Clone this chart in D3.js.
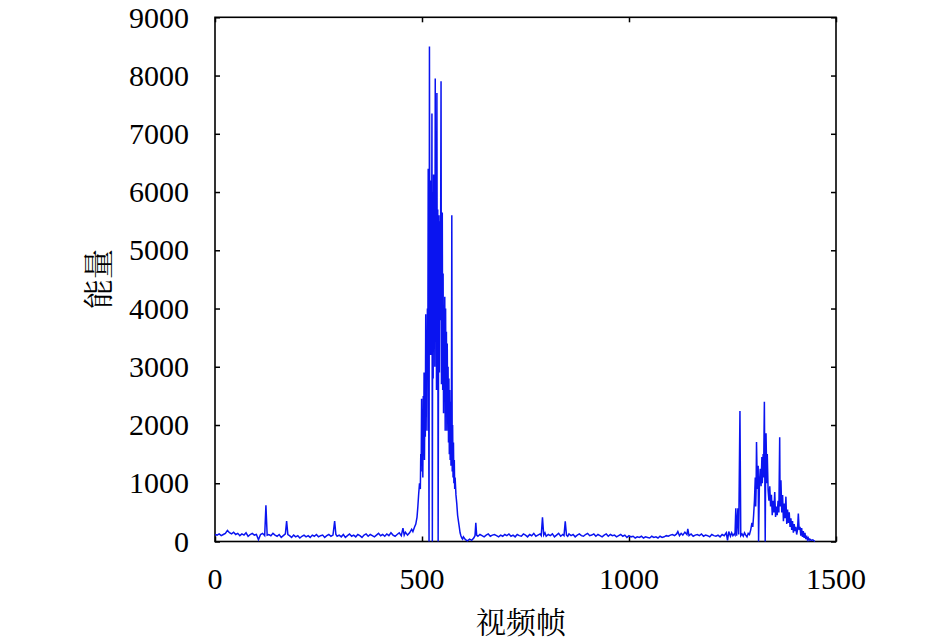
<!DOCTYPE html>
<html>
<head>
<meta charset="utf-8">
<script src="https://cdn.jsdelivr.net/npm/d3@7"></script>
<style>
    body { margin: 0; background: #fff; }
    .tick line { stroke: #000; stroke-width: 1.5; }
</style>
</head>
<body>
<div id="main_div" style="width:946px;height:642px"></div>
<script>
/** Global Variables **/
let xScale, yScale;
const size = [946, 642];
const box = { left: 215, right: 836, top: 17.3, bottom: 541.5 };
const tickFont = "'Liberation Serif', monospace";
const labelFont = "'Noto Serif CJK SC', 'Noto Sans CJK SC', monospace";

const xTicks = [0, 500, 1000, 1500];
const yTicks = [0, 1000, 2000, 3000, 4000, 5000, 6000, 7000, 8000, 9000];
const xLabel = "视频帧";
const yLabel = "能量";

// video frame index
const frames = [
    0, 5, 10, 15, 20, 25, 30, 35, 40, 45,
    50, 55, 60, 65, 70, 75, 80, 85, 90, 95,
    100, 105, 110, 115, 120, 123, 126, 130, 135, 140,
    145, 150, 155, 160, 165, 170, 173, 176, 180, 185,
    190, 195, 200, 205, 210, 215, 220, 225, 230, 235,
    240, 245, 250, 255, 260, 265, 270, 275, 280, 285,
    289, 292, 295, 300, 305, 310, 315, 320, 325, 330,
    335, 340, 345, 350, 355, 360, 365, 370, 375, 380,
    385, 390, 395, 400, 405, 410, 415, 420, 425, 430,
    435, 440, 445, 450, 454, 457, 460, 465, 470, 475,
    478, 482, 485, 488, 490, 492, 494, 496, 497, 498,
    499, 500, 501, 502, 503, 504, 505, 506, 507, 508,
    509, 510, 511, 512, 513, 514, 515, 516, 517, 518,
    519, 520, 521, 522, 523, 524, 525, 526, 527, 528,
    529, 530, 531, 532, 533, 534, 535, 536, 537, 538,
    539, 540, 541, 542, 543, 544, 545, 546, 547, 548,
    549, 550, 551, 552, 553, 554, 555, 556, 557, 558,
    559, 560, 561, 562, 563, 564, 565, 566, 567, 568,
    569, 570, 571, 572, 573, 574, 575, 576, 577, 578,
    579, 580, 582, 584, 586, 588, 590, 592, 594, 596,
    598, 600, 605, 610, 615, 620, 625, 628, 630, 632,
    635, 640, 645, 650, 655, 660, 665, 670, 675, 680,
    685, 690, 695, 700, 705, 710, 715, 720, 725, 730,
    735, 740, 745, 750, 755, 760, 765, 770, 775, 780,
    785, 788, 791, 794, 797, 800, 805, 810, 815, 820,
    825, 830, 835, 840, 843, 846, 849, 852, 855, 860,
    865, 870, 875, 880, 885, 890, 895, 900, 905, 910,
    915, 920, 925, 930, 935, 940, 945, 950, 955, 960,
    965, 970, 975, 980, 985, 990, 995, 1000, 1005, 1010,
    1015, 1020, 1025, 1030, 1035, 1040, 1045, 1050, 1055, 1060,
    1065, 1070, 1075, 1080, 1085, 1090, 1095, 1100, 1105, 1110,
    1115, 1118, 1122, 1126, 1130, 1135, 1140, 1142, 1145, 1150,
    1155, 1160, 1165, 1170, 1175, 1180, 1185, 1190, 1195, 1200,
    1205, 1210, 1215, 1220, 1225, 1230, 1235, 1238, 1241, 1245,
    1248, 1251, 1254, 1256, 1258, 1260, 1263, 1265, 1268, 1270,
    1273, 1276, 1279, 1282, 1285, 1288, 1291, 1294, 1297, 1299,
    1301, 1303, 1305, 1306, 1307, 1308, 1310, 1312, 1313, 1315,
    1317, 1319, 1321, 1322, 1324, 1325, 1327, 1329, 1330, 1331,
    1333, 1334, 1336, 1338, 1340, 1342, 1344, 1346, 1348, 1350,
    1352, 1354, 1356, 1358, 1360, 1362, 1364, 1365, 1367, 1369,
    1371, 1373, 1375, 1377, 1379, 1381, 1383, 1385, 1387, 1389,
    1391, 1393, 1395, 1397, 1399, 1401, 1403, 1405, 1407, 1409,
    1411, 1413, 1415, 1417, 1419, 1421, 1423, 1425, 1427, 1429,
    1431, 1433, 1435, 1437, 1440, 1444, 1449
];

// energy per frame, same order as frames
const energy = [
    120, 110, 130, 100, 120, 140, 190, 150, 130, 160,
    120, 140, 100, 130, 110, 150, 90, 120, 140, 110,
    120, 30, 120, 140, 100, 620, 110, 120, 100, 140,
    110, 90, 120, 70, 100, 130, 350, 120, 100, 70,
    110, 80, 100, 60, 90, 110, 80, 100, 70, 110,
    90, 120, 80, 100, 110, 70, 100, 120, 90, 110,
    350, 120, 90, 110, 80, 120, 70, 100, 130, 90,
    110, 80, 120, 100, 70, 110, 130, 90, 120, 100,
    80, 110, 140, 100, 120, 90, 130, 100, 150, 110,
    90, 120, 150, 100, 230, 110, 160, 110, 150, 210,
    170, 250, 300, 420, 600, 820, 1000, 900, 1500, 1200,
    2450, 1300, 2000, 1100, 2500, 1600, 2900, 1400, 2600, 1800,
    3900, 2200, 3500, 1900, 4000, 2800, 6400, 3000, 0, 8500,
    3800, 6200, 3200, 5800, 3600, 7350, 0, 6000, 2800, 6300,
    3400, 5900, 3000, 7950, 3600, 5800, 2600, 7700, 3200, 5700,
    0, 3400, 5600, 2900, 5500, 3800, 5300, 7900, 2700, 4800,
    5650, 2600, 4600, 2200, 4000, 2800, 4200, 1900, 4000, 2400,
    3600, 1900, 3400, 2200, 3000, 1700, 2800, 1500, 2600, 1400,
    2400, 1300, 2000, 5600, 1200, 2000, 1100, 1700, 1000, 1400,
    900, 1100, 800, 650, 450, 350, 250, 150, 100, 60,
    40, 80, 30, 10, 40, 20, 60, 100, 320, 110,
    90, 120, 100, 80, 110, 130, 90, 110, 120, 100,
    80, 110, 90, 120, 100, 130, 90, 110, 80, 120,
    100, 90, 130, 110, 80, 120, 100, 140, 90, 110,
    130, 100, 415, 110, 150, 90, 120, 100, 130, 80,
    110, 140, 90, 120, 100, 345, 110, 90, 130, 100,
    120, 80, 110, 130, 100, 90, 120, 140, 100, 110,
    130, 90, 120, 100, 80, 110, 130, 90, 120, 100,
    110, 80, 100, 120, 90, 110, 70, 100, 80, 90,
    60, 80, 70, 90, 60, 80, 70, 60, 90, 70,
    80, 60, 90, 70, 80, 100, 90, 110, 120, 100,
    130, 170, 100, 140, 110, 160, 120, 215, 100, 130,
    90, 110, 120, 100, 130, 90, 110, 100, 80, 120,
    100, 90, 110, 80, 120, 100, 150, 20, 170, 90,
    150, 100, 130, 110, 570, 100, 570, 120, 2240, 100,
    130, 90, 150, 110, 80, 140, 120, 200, 320, 250,
    450, 700, 1100, 600, 880, 1710, 900, 1300, 0, 1000,
    1250, 950, 1450, 1000, 1500, 1100, 2400, 0, 1200, 1860,
    1000, 1500, 880, 700, 950, 600, 800, 450, 700, 500,
    850, 420, 600, 450, 700, 500, 1790, 600, 1050, 500,
    800, 350, 650, 400, 770, 300, 550, 320, 500, 250,
    400, 200, 350, 150, 300, 180, 250, 120, 200, 480,
    200, 250, 100, 230, 80, 180, 60, 150, 40, 100,
    30, 60, 20, 40, 20, 30, 0
];

render();

function render() {
    createSVG();
    drawAxes();
    drawLine();
    drawLabels();
}

function createSVG() {
    d3.select("#main_div")
        .append("svg")
        .attr("width", size[0])
        .attr("height", size[1])
        .attr("id", "main_svg");
}

function drawAxes() {
    xScale = d3.scaleLinear().domain([0, 1500]).range([box.left, box.right]);
    yScale = d3.scaleLinear().domain([0, 9000]).range([box.bottom, box.top]);

    let svg = d3.select("#main_svg");

    /** ticks point inward on all four sides, labels drawn separately **/
    let xAxis = d3.axisBottom(xScale).tickValues(xTicks).tickSize(-5).tickSizeOuter(0).tickFormat("");
    let yAxis = d3.axisLeft(yScale).tickValues(yTicks).tickSize(-5).tickSizeOuter(0).tickFormat("");
    let xTop = d3.axisTop(xScale).tickValues(xTicks).tickSize(-5).tickSizeOuter(0).tickFormat("");
    let yRight = d3.axisRight(yScale).tickValues(yTicks).tickSize(-5).tickSizeOuter(0).tickFormat("");

    svg.append("g").attr("transform", "translate(0," + box.bottom + ")").call(xAxis);
    svg.append("g").attr("transform", "translate(" + box.left + ",0)").call(yAxis);
    svg.append("g").attr("transform", "translate(0," + box.top + ")").call(xTop);
    svg.append("g").attr("transform", "translate(" + box.right + ",0)").call(yRight);

    svg.selectAll(".domain").remove();
    svg.selectAll(".tick text").remove();

    /** tick labels **/
    svg.append("g").selectAll("text")
        .data(yTicks)
        .enter()
        .append("text")
        .attr("x", box.left - 26)
        .attr("y", function (d) { return yScale(d); })
        .attr("dy", "0.34em")
        .attr("text-anchor", "end")
        .style("font-family", tickFont)
        .style("font-size", "30px")
        .style("fill", "#000")
        .text(function (d) { return d; });

    svg.append("g").selectAll("text")
        .data(xTicks)
        .enter()
        .append("text")
        .attr("x", function (d) { return xScale(d); })
        .attr("y", box.bottom + 47)
        .attr("text-anchor", "middle")
        .style("font-family", tickFont)
        .style("font-size", "30px")
        .style("fill", "#000")
        .text(function (d) { return d; });

    svg.append("rect")
        .attr("x", box.left)
        .attr("y", box.top)
        .attr("width", box.right - box.left)
        .attr("height", box.bottom - box.top)
        .attr("fill", "none")
        .attr("stroke", "#000")
        .attr("stroke-width", 1.6);
}

function drawLine() {
    let line = d3.line()
        .x(function (d, i) { return xScale(frames[i]); })
        .y(function (d) { return yScale(d); });

    d3.select("#main_svg")
        .append("path")
        .datum(energy)
        .attr("d", line)
        .attr("fill", "none")
        .attr("stroke", "#0a14f0")
        .attr("stroke-width", 1.5);
}

function drawLabels() {
    let svg = d3.select("#main_svg");

    svg.append("text")
        .attr("x", 521)
        .attr("y", 620)
        .attr("text-anchor", "middle")
        .attr("dominant-baseline", "central")
        .style("font-family", labelFont)
        .style("font-size", "30px")
        .text(xLabel);

    svg.append("text")
        .attr("transform", "translate(96,279) rotate(-90)")
        .attr("text-anchor", "middle")
        .attr("dominant-baseline", "central")
        .style("font-family", labelFont)
        .style("font-size", "30px")
        .text(yLabel);
}
</script>
</body>
</html>
